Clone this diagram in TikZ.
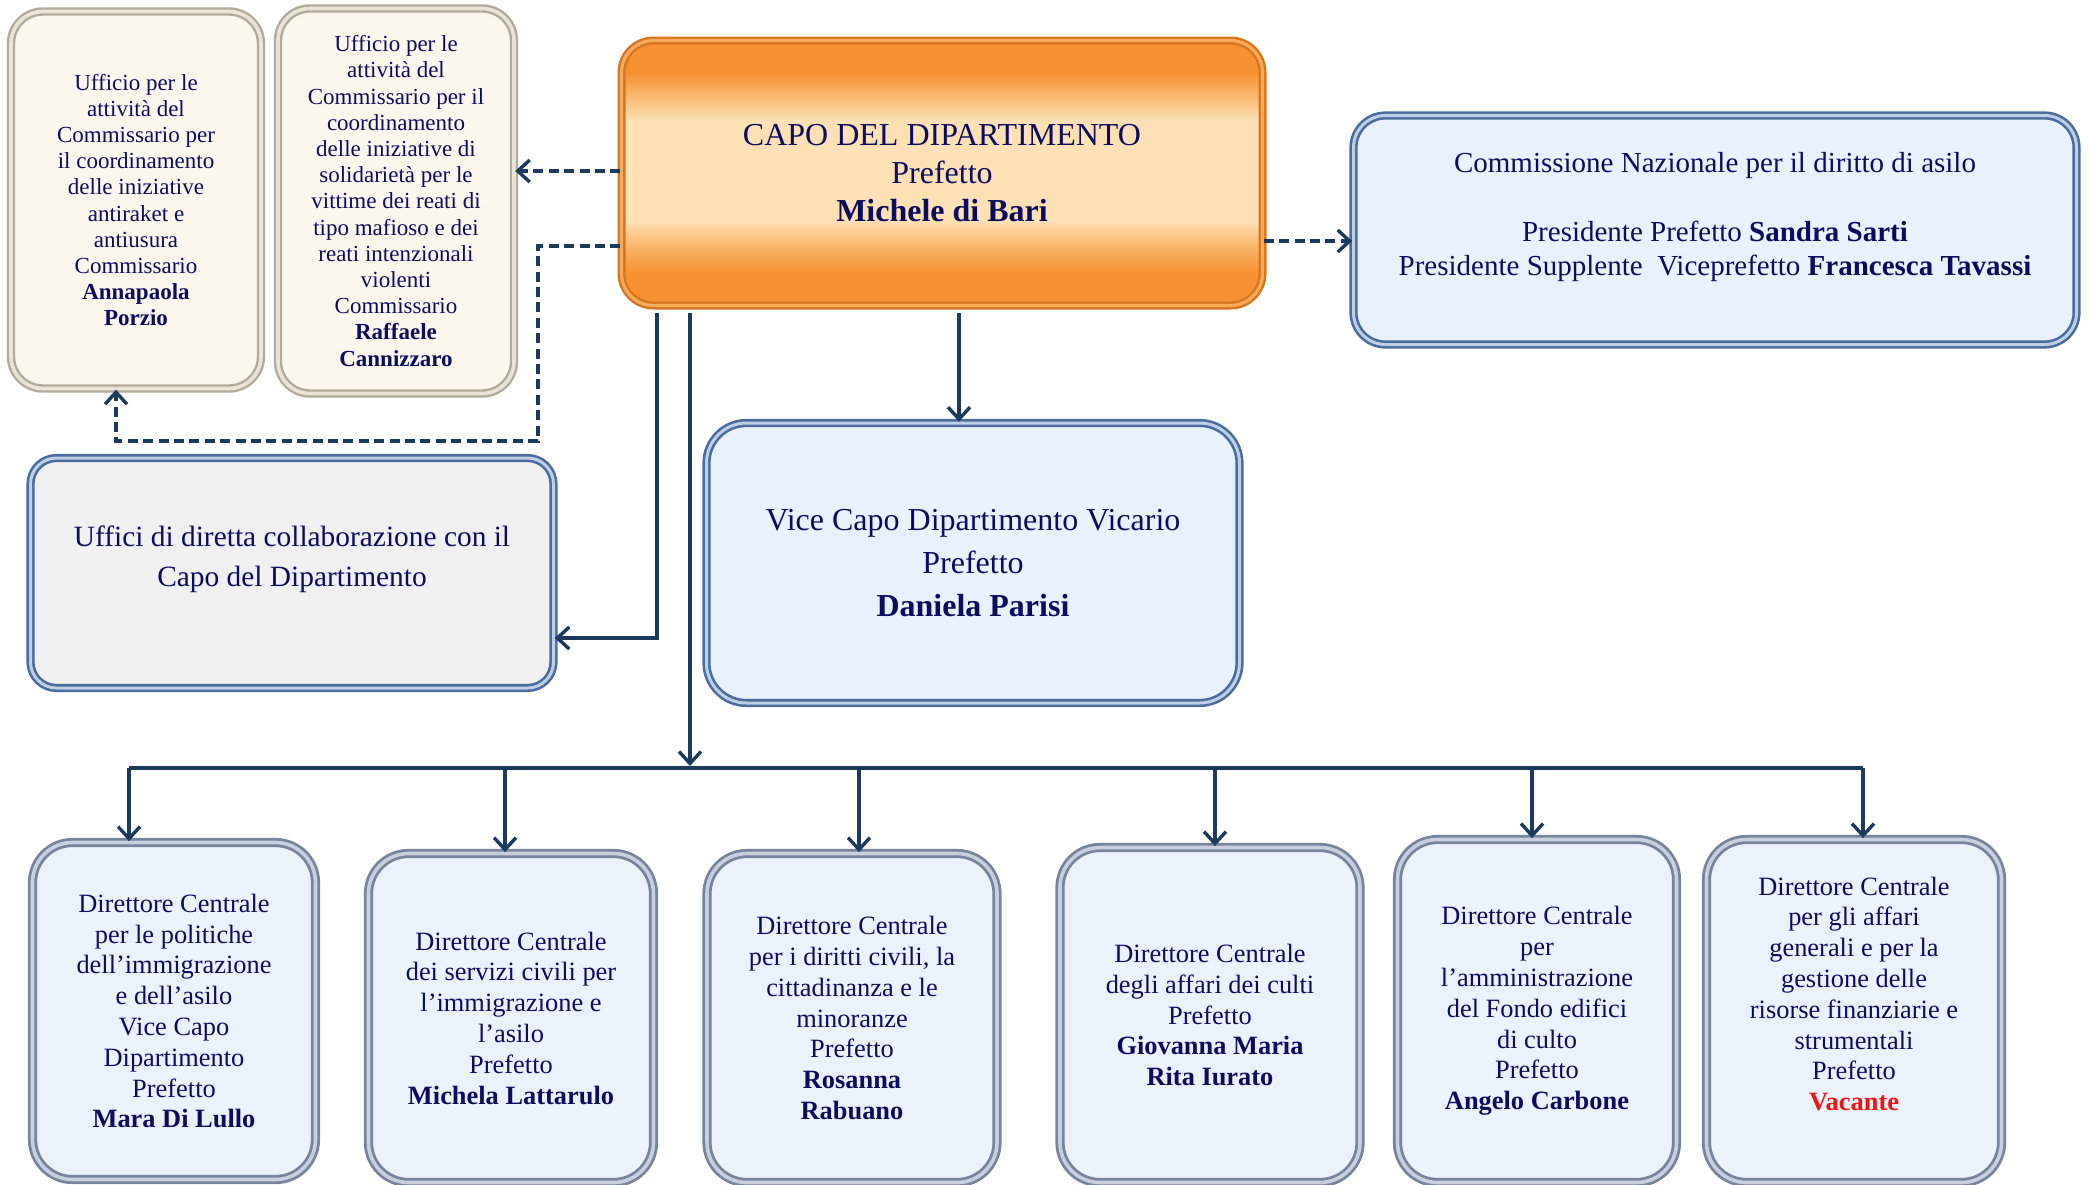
\documentclass[tikz,border=0pt]{standalone}
\usepackage{fontspec}
\setmainfont{Liberation Serif}
\usetikzlibrary{arrows.meta}
\definecolor{navy}{RGB}{12,12,95}
\definecolor{conn}{RGB}{28,58,94}
\definecolor{creamfill}{RGB}{252,247,236}
\definecolor{creamedge}{RGB}{178,170,154}
\definecolor{creamin}{RGB}{234,228,214}
\definecolor{bluefill}{RGB}{231,242,252}
\definecolor{blueedge}{RGB}{74,108,158}
\definecolor{bluein}{RGB}{190,208,230}
\definecolor{greyfill}{RGB}{240,240,240}
\definecolor{botfill}{RGB}{235,242,252}
\definecolor{botedge}{RGB}{118,132,158}
\definecolor{botin}{RGB}{200,207,222}
\definecolor{orD}{RGB}{246,144,48}
\definecolor{orM}{RGB}{249,180,104}
\definecolor{orP}{RGB}{253,224,180}
\definecolor{oredge}{RGB}{214,118,30}
\definecolor{orin}{RGB}{248,170,90}
\definecolor{vacred}{RGB}{240,20,20}
\pgfdeclareverticalshading{capoShade}{100bp}{color(0bp)=(orD); color(31bp)=(orD); color(36bp)=(orM); color(41bp)=(orP); color(60bp)=(orP); color(65bp)=(orM); color(69bp)=(orD); color(100bp)=(orD)}
\tikzset{
  txt/.style={align=center, text=navy, inner sep=0pt},
  creambox/.style={txt, rectangle, rounded corners=16pt, fill=creamfill, draw=creamedge, double=creamin, double distance=1.8pt, line width=1.2pt},
  capobox/.style={txt, rectangle, rounded corners=16pt, shading=capoShade, draw=oredge, double=orin, double distance=1.6pt, line width=1.2pt},
  bluebox/.style={txt, rectangle, rounded corners=16pt, fill=bluefill, draw=blueedge, double=bluein, double distance=1.5pt, line width=1.3pt},
  greybox/.style={txt, rectangle, rounded corners=13pt, fill=greyfill, draw=blueedge, double=bluein, double distance=1.5pt, line width=1.3pt},
  botbox/.style={txt, rectangle, rounded corners=20pt, fill=botfill, draw=botedge, double=botin, double distance=1.8pt, line width=1.4pt},
  arr/.style={draw=conn, line width=1.7pt, -{Straight Barb[length=6pt,width=11pt,line width=1.7pt]}},
  dasharr/.style={arr, dash pattern=on 5pt off 2.7pt},
  busline/.style={draw=conn, line width=2pt},
  fsA/.style={font=\fontsize{11.5}{13.1}\selectfont},
  fsBot/.style={font=\fontsize{13.2}{15.4}\selectfont},
}
\begin{document}
\begin{tikzpicture}[x=0.5pt,y=-0.5pt]
\useasboundingbox (0,0) rectangle (2089,1184);

% top-left offices
\node[creambox, fsA, minimum width=125pt, minimum height=188.5pt] (ba) at (136,200)
 {Ufficio per le\\attività del\\Commissario per\\il coordinamento\\delle iniziative\\antiraket e\\antiusura\\Commissario\\\textbf{Annapaola}\\\textbf{Porzio}};
\node[creambox, fsA, minimum width=118pt, minimum height=192.5pt] (bb) at (396,201)
 {Ufficio per le\\attività del\\Commissario per il\\coordinamento\\delle iniziative di\\solidarietà per le\\vittime dei reati di\\tipo mafioso e dei\\reati intenzionali\\violenti\\Commissario\\\textbf{Raffaele}\\\textbf{Cannizzaro}};

% head
\node[capobox, font=\fontsize{16}{19}\selectfont, minimum width=320.5pt, minimum height=132.5pt] (capo) at (942,173)
 {CAPO DEL DIPARTIMENTO\\Prefetto\\\textbf{Michele di Bari}};

% commission
\node[bluebox, minimum width=361.5pt, minimum height=114.5pt] (comm) at (1715,230) {};
\node[txt, font=\fontsize{14.5}{17.3}\selectfont] (commtxt) at (1715,217)
 {Commissione Nazionale per il diritto di asilo\\[17.3pt]Presidente Prefetto \textbf{Sandra Sarti}\\Presidente Supplente\ \ Viceprefetto \textbf{Francesca Tavassi}};

% uffici
\node[greybox, minimum width=261.5pt, minimum height=115pt] (uff) at (292,573) {};
\node[txt, font=\fontsize{14.7}{20}\selectfont] (ufftxt) at (292,559)
 {Uffici di diretta collaborazione con il\\Capo del Dipartimento};

% vice
\node[bluebox, rounded corners=20pt, font=\fontsize{16}{21.3}\selectfont, minimum width=266.5pt, minimum height=140pt] (vice) at (973,563)
 {Vice Capo Dipartimento Vicario\\Prefetto\\\textbf{Daniela Parisi}};

% bottom row
\node[botbox, fsBot, minimum width=141.5pt, minimum height=168.5pt] (d1) at (174,1011)
 {Direttore Centrale\\per le politiche\\dell’immigrazione\\e dell’asilo\\Vice Capo\\Dipartimento\\Prefetto\\\textbf{Mara Di Lullo}};
\node[botbox, fsBot, minimum width=142.5pt, minimum height=164.5pt] (d2) at (511,1018)
 {Direttore Centrale\\dei servizi civili per\\l’immigrazione e\\l’asilo\\Prefetto\\\textbf{Michela Lattarulo}};
\node[botbox, fsBot, minimum width=145pt, minimum height=164.5pt] (d3) at (852,1018)
 {Direttore Centrale\\per i diritti civili, la\\cittadinanza e le\\minoranze\\Prefetto\\\textbf{Rosanna}\\\textbf{Rabuano}};
\node[botbox, fsBot, minimum width=150pt, minimum height=167.5pt] (d4) at (1210,1015)
 {Direttore Centrale\\degli affari dei culti\\Prefetto\\\textbf{Giovanna Maria}\\\textbf{Rita Iurato}};
\node[botbox, fsBot, minimum width=139.5pt, minimum height=171.5pt] (d5) at (1537,1011)
 {Direttore Centrale\\per\\l’amministrazione\\del Fondo edifici\\di culto\\Prefetto\\\textbf{Angelo Carbone}};
\node[botbox, minimum width=147.5pt, minimum height=171.5pt] (d6) at (1854,1011) {};
\node[txt, fsBot] (d6txt) at (1854,994)
 {Direttore Centrale\\per gli affari\\generali e per la\\gestione delle\\risorse finanziarie e\\strumentali\\Prefetto\\\textcolor{vacred}{\textbf{Vacante}}};

% connectors
\coordinate (dturn) at (538,441);
\coordinate (s1) at (657,313);
\coordinate (s2) at (690,313);
\coordinate (s3) at (959,313);
\coordinate (busmid) at (690,766);
\coordinate (busL) at (129,768);
\coordinate (busR) at (1863,768);

\draw[dasharr] (capo.west |- 0,171) -- (bb.east |- 0,171);
\draw[dasharr] (capo.west |- 0,246) -| (dturn) -| (116,0 |- ba.south);
\draw[dasharr] (capo.east |- 0,241) -- (comm.west |- 0,241);
\draw[arr] (s1) |- (uff.east |- 0,638);
\draw[arr] (s2) -- (busmid);
\draw[arr] (s3) -- (s3 |- vice.north);
\draw[busline] (busL) -- (busR);
\draw[arr] (busL) -- (busL |- d1.north);
\draw[arr] (505,768) -- (505,0 |- d2.north);
\draw[arr] (859,768) -- (859,0 |- d3.north);
\draw[arr] (1215,768) -- (1215,0 |- d4.north);
\draw[arr] (1532,768) -- (1532,0 |- d5.north);
\draw[arr] (busR) -- (busR |- d6.north);
\end{tikzpicture}
\end{document}
